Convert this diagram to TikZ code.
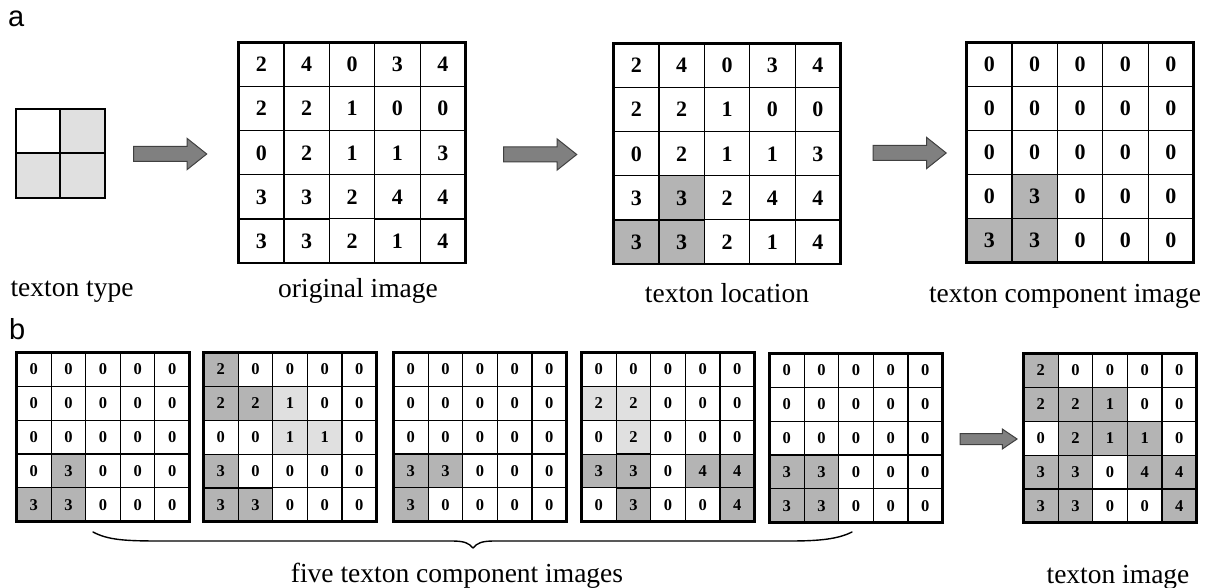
\documentclass[tikz,border=0pt]{standalone}
\usepackage{fontspec}
\setmainfont{Liberation Serif}
\newfontfamily\panelfont{Liberation Sans}
\usetikzlibrary{matrix,shapes.arrows}
\definecolor{dk}{HTML}{B4B4B4}
\definecolor{lt}{HTML}{E0E0E0}
\definecolor{arrfill}{HTML}{808080}
\definecolor{arrline}{HTML}{404040}
\tikzset{
  cellbig/.style={draw, line width=1.1pt, minimum width=45.4pt, minimum height=44pt,
    inner sep=0pt, outer sep=0pt, font=\bfseries\fontsize{22}{22}\selectfont},
  cellsmall/.style={draw, line width=1.1pt, minimum width=34.6pt, minimum height=33.8pt,
    inner sep=0pt, outer sep=0pt, font=\bfseries\fontsize{16.5}{16.5}\selectfont},
  gridbig/.style={matrix of nodes, nodes in empty cells, column sep=-1.1pt, row sep=-1.1pt,
    inner sep=0pt, outer sep=0pt, anchor=north west, nodes={cellbig}},
  gridsmall/.style={matrix of nodes, nodes in empty cells, column sep=-1.1pt, row sep=-1.1pt,
    inner sep=0pt, outer sep=0pt, anchor=north west, nodes={cellsmall}},
  gridframe/.style={draw=black, line width=2.6pt, line join=miter},
  D/.style={fill=dk},
  L/.style={fill=lt},
  blockarrow/.style={single arrow, draw=arrline, fill=arrfill, line width=1pt,
    inner xsep=0pt, inner ysep=7pt, single arrow head extend=8pt,
    single arrow tip angle=77, minimum height=73pt, anchor=center},
  smallarrow/.style={single arrow, draw=arrline, fill=arrfill, line width=1pt,
    inner xsep=0pt, inner ysep=5pt, single arrow head extend=4.5pt,
    single arrow tip angle=68, minimum height=57pt, anchor=center},
  caption/.style={font=\fontsize{27.5}{27.5}\selectfont, anchor=base, inner sep=0pt},
  panel/.style={font=\panelfont\fontsize{29}{29}\selectfont, anchor=base west, inner sep=0pt},
  bracepath/.style={line width=1.4pt, line cap=round, line join=round}
}
\begin{document}
\begin{tikzpicture}[x=1pt,y=-1pt]
\useasboundingbox[fill=white] (0,0) rectangle (1211,588);

% panel labels
\node[panel] (la) at (8,27) {a};
\node[panel] (lb) at (9,339) {b};

% texton type
\matrix (tt) at (15,108) [matrix of nodes, nodes in empty cells, column sep=-1.8pt, row sep=-1.8pt,
  inner sep=0pt, outer sep=0pt, anchor=north west,
  nodes={draw, line width=1.8pt, minimum width=44.5pt, minimum height=44.5pt, inner sep=0pt}] {
  {} & |[L]| {} \\
  |[L]| {} & |[L]| {} \\
};
\draw[gridframe] (tt-1-1.north west) rectangle (tt-2-2.south east);

% original image
\matrix (ga1) at (238,42) [gridbig] {
  2 & 4 & 0 & 3 & 4 \\
  2 & 2 & 1 & 0 & 0 \\
  0 & 2 & 1 & 1 & 3 \\
  3 & 3 & 2 & 4 & 4 \\
  3 & 3 & 2 & 1 & 4 \\
};
\draw[gridframe] (ga1-1-1.north west) rectangle (ga1-5-5.south east);

% texton location
\matrix (ga2) at (613,43) [gridbig] {
  2 & 4 & 0 & 3 & 4 \\
  2 & 2 & 1 & 0 & 0 \\
  0 & 2 & 1 & 1 & 3 \\
  3 & |[D]| 3 & 2 & 4 & 4 \\
  |[D]| 3 & |[D]| 3 & 2 & 1 & 4 \\
};
\draw[gridframe] (ga2-1-1.north west) rectangle (ga2-5-5.south east);

% texton component image
\matrix (ga3) at (966,42) [gridbig] {
  0 & 0 & 0 & 0 & 0 \\
  0 & 0 & 0 & 0 & 0 \\
  0 & 0 & 0 & 0 & 0 \\
  0 & |[D]| 3 & 0 & 0 & 0 \\
  |[D]| 3 & |[D]| 3 & 0 & 0 & 0 \\
};
\draw[gridframe] (ga3-1-1.north west) rectangle (ga3-5-5.south east);

% arrows panel a
\node[blockarrow] (arr1) at (165.5,154) {};
\node[blockarrow] (arr2) at (535.5,154.5) {};
\node[blockarrow] (arr3) at (905,153) {};

% captions panel a
\node[caption] (c1) at (72,297) {texton type};
\node[caption] (c2) at (358,298) {original image};
\node[caption] (c3) at (727,303) {texton location};
\node[caption] (c4) at (1065,302) {texton component image};

% panel b grids
\matrix (gb1) at (16,352) [gridsmall] {
  0 & 0 & 0 & 0 & 0 \\
  0 & 0 & 0 & 0 & 0 \\
  0 & 0 & 0 & 0 & 0 \\
  0 & |[D]| 3 & 0 & 0 & 0 \\
  |[D]| 3 & |[D]| 3 & 0 & 0 & 0 \\
};
\draw[gridframe] (gb1-1-1.north west) rectangle (gb1-5-5.south east);

\matrix (gb2) at (203,352) [gridsmall] {
  |[D]| 2 & 0 & 0 & 0 & 0 \\
  |[D]| 2 & |[D]| 2 & |[L]| 1 & 0 & 0 \\
  0 & 0 & |[L]| 1 & |[L]| 1 & 0 \\
  |[D]| 3 & 0 & 0 & 0 & 0 \\
  |[D]| 3 & |[D]| 3 & 0 & 0 & 0 \\
};
\draw[gridframe] (gb2-1-1.north west) rectangle (gb2-5-5.south east);

\matrix (gb3) at (393,352) [gridsmall] {
  0 & 0 & 0 & 0 & 0 \\
  0 & 0 & 0 & 0 & 0 \\
  0 & 0 & 0 & 0 & 0 \\
  |[D]| 3 & |[D]| 3 & 0 & 0 & 0 \\
  |[D]| 3 & 0 & 0 & 0 & 0 \\
};
\draw[gridframe] (gb3-1-1.north west) rectangle (gb3-5-5.south east);

\matrix (gb4) at (581,352) [gridsmall] {
  0 & 0 & 0 & 0 & 0 \\
  |[L]| 2 & |[L]| 2 & 0 & 0 & 0 \\
  0 & |[L]| 2 & 0 & 0 & 0 \\
  |[D]| 3 & |[D]| 3 & 0 & |[D]| 4 & |[D]| 4 \\
  0 & |[D]| 3 & 0 & 0 & |[D]| 4 \\
};
\draw[gridframe] (gb4-1-1.north west) rectangle (gb4-5-5.south east);

\matrix (gb5) at (769,353) [gridsmall] {
  0 & 0 & 0 & 0 & 0 \\
  0 & 0 & 0 & 0 & 0 \\
  0 & 0 & 0 & 0 & 0 \\
  |[D]| 3 & |[D]| 3 & 0 & 0 & 0 \\
  |[D]| 3 & |[D]| 3 & 0 & 0 & 0 \\
};
\draw[gridframe] (gb5-1-1.north west) rectangle (gb5-5-5.south east);

\matrix (gb6) at (1023,353) [gridsmall] {
  |[D]| 2 & 0 & 0 & 0 & 0 \\
  |[D]| 2 & |[D]| 2 & |[D]| 1 & 0 & 0 \\
  0 & |[D]| 2 & |[D]| 1 & |[D]| 1 & 0 \\
  |[D]| 3 & |[D]| 3 & 0 & |[D]| 4 & |[D]| 4 \\
  |[D]| 3 & |[D]| 3 & 0 & 0 & |[D]| 4 \\
};
\draw[gridframe] (gb6-1-1.north west) rectangle (gb6-5-5.south east);

\node[smallarrow] (arr4) at (984.5,439) {};

% brace
\coordinate (bl) at (93,532);
\coordinate (bt) at (473,548);
\coordinate (br) at (852,532);
\draw[bracepath] (bl) .. controls (108,540) and (125,541) .. (160,541) -- (452,541)
  .. controls (464,541) and (469,543) .. (bt)
  .. controls (477,543) and (482,541) .. (494,541) -- (790,541)
  .. controls (820,541) and (838,539) .. (br);

% captions panel b
\node[caption] (c5) at (457,582) {five texton component images};
\node[caption] (c6) at (1118,583) {texton image};
\end{tikzpicture}
\end{document}
